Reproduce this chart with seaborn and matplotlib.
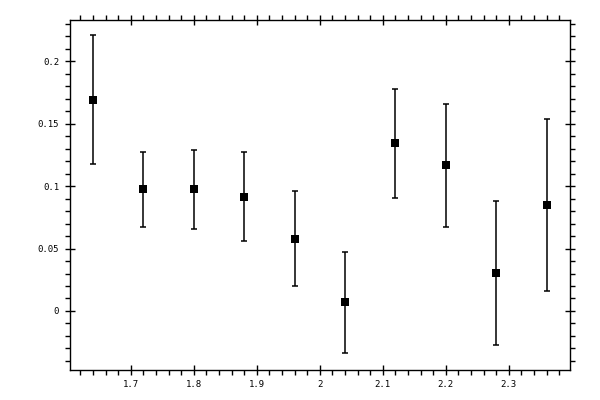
import numpy as np
import pandas as pd
import matplotlib
matplotlib.use("Agg")
import matplotlib.pyplot as plt
from matplotlib.ticker import MultipleLocator, FuncFormatter
import seaborn as sns

# data
x_vals = [1.64, 1.72, 1.80, 1.88, 1.96, 2.04, 2.12, 2.20, 2.28, 2.36]
y_vals = [0.1688, 0.0975, 0.0975, 0.0911, 0.0574, 0.0070, 0.1344, 0.1167, 0.0302, 0.0847]
y_high = [0.2212, 0.1270, 0.1288, 0.1272, 0.0959, 0.0470, 0.1782, 0.1659, 0.0879, 0.1536]
y_low = [0.1175, 0.0670, 0.0655, 0.0558, 0.0198, -0.0339, 0.0905, 0.0670, -0.0275, 0.0160]

df = pd.DataFrame({"x": x_vals, "y": y_vals, "lo": y_low, "hi": y_high})

sns.set_style("ticks")
plt.rcParams["font.family"] = ["DejaVu Sans Mono", "DejaVu Sans"]

fig = plt.figure(figsize=(6, 4), dpi=100)
ax = fig.add_axes([0.116, 0.076, 0.834, 0.875])

yerr = np.vstack([df.y - df.lo, df.hi - df.y])
ax.errorbar(df.x, df.y, yerr=yerr, fmt="none", ecolor="black",
            elinewidth=1.1, capsize=2.0, capthick=1.1, zorder=2)
sns.scatterplot(data=df, x="x", y="y", marker="s", s=36, color="black",
                edgecolor="black", linewidth=0, ax=ax, zorder=3)

ax.set_xlim(1.603, 2.397)
ax.set_ylim(-0.047, 0.2335)
ax.set_xlabel("")
ax.set_ylabel("")

ax.xaxis.set_major_locator(MultipleLocator(0.1))
ax.xaxis.set_minor_locator(MultipleLocator(0.02))
ax.yaxis.set_major_locator(MultipleLocator(0.05))
ax.yaxis.set_minor_locator(MultipleLocator(0.01))
fmt = FuncFormatter(lambda v, p: "%g" % round(v, 4))
ax.xaxis.set_major_formatter(fmt)
ax.yaxis.set_major_formatter(fmt)

ax.tick_params(which="major", direction="inout", length=7, width=1,
               top=True, right=True, labelsize=6.5, pad=4,
               colors="black", labelcolor="black")
ax.tick_params(which="minor", direction="out", length=3.5, width=1,
               top=True, right=True, colors="black")
for s in ax.spines.values():
    s.set_visible(True)
    s.set_linewidth(1)
    s.set_color("black")

fig.savefig("out.png", dpi=100)
